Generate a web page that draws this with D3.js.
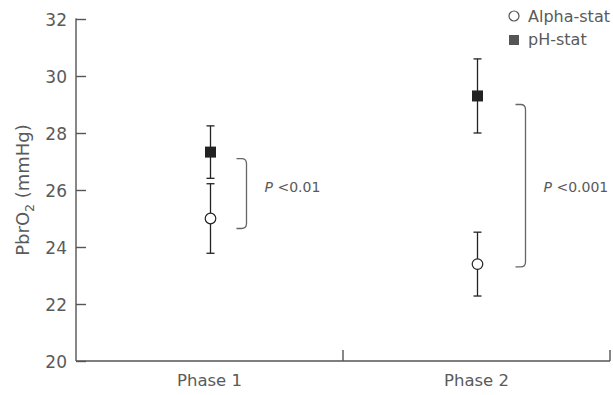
<!DOCTYPE html>
<html><head><meta charset="utf-8">
<script src="https://cdn.jsdelivr.net/npm/d3@7/dist/d3.min.js"></script>
<style>body{margin:0;background:#fff}svg{display:block}text{font-family:"DejaVu Sans",sans-serif;fill:#5a5a5a}</style>
</head><body><svg id="c" width="613" height="395"></svg>
<script>
const phases = ["Phase 1", "Phase 2"];
const series = ["Alpha-stat", "pH-stat"];
const alphaMean = [25.0, 23.4];
const alphaErr = [1.22, 1.12];
const phMean = [27.33, 29.3];
const phErr = [0.92, 1.3];
const bracketTop = [27.1, 29.0];
const bracketBottom = [24.65, 23.3];
const pLabels = ["<0.01", "<0.001"];
const pLabelAt = [26.1, 26.1];
const yTicks = [20, 22, 24, 26, 28, 30, 32];

const FONT = "DejaVu Sans";
const TXT = "#5a5a5a";
const svg = d3.select("#c");
const x = d3.scaleBand().domain(phases).range([76, 610]).padding(0);
const y = d3.scaleLinear().domain([20, 32]).range([361, 19]);
const axisColor = "#555";

// y axis
const gy = svg.append("g").attr("transform", "translate(76,0)")
  .call(d3.axisLeft(y).tickValues(yTicks).tickSize(-10).tickPadding(9).tickFormat(d3.format("d")));
gy.select(".domain").attr("d", `M-0.5,${y(32)}H0V${y(20)}`);
gy.selectAll("path,line").attr("stroke", axisColor).attr("stroke-width", 1.4);
gy.selectAll("text").attr("font-size", 17).attr("fill", TXT).attr("font-family", FONT).attr("dy", "0.36em");

// x axis
const gx = svg.append("g").attr("transform", `translate(0,${y(20)})`)
  .call(d3.axisBottom(x).tickSize(0).tickPadding(13));
gx.select(".domain").attr("d", `M76,0H${x.range()[1]}`);
gx.selectAll("path").attr("stroke", axisColor).attr("stroke-width", 1.4);
gx.selectAll("text").attr("font-size", 16.5).attr("fill", TXT).attr("font-family", FONT).attr("dy", "0.71em");
// boundary ticks
const bounds = phases.map(p => x(p) + x.bandwidth());
svg.append("g").selectAll("line").data(bounds).join("line")
  .attr("x1", d => d).attr("x2", d => d)
  .attr("y1", y(20)).attr("y2", y(20) - 11)
  .attr("stroke", axisColor).attr("stroke-width", 1.4);

// y label
svg.append("text").attr("transform", `translate(29,${(y(32)+y(20))/2}) rotate(-90)`)
  .attr("text-anchor", "middle").attr("font-size", 18)
  .html('PbrO<tspan font-size="12.5" dy="5">2</tspan><tspan dy="-5"> (mmHg)</tspan>');

const cx = p => x(p) + x.bandwidth() / 2 + 1;
const mk = "#222";
const cap = 4;

function errBar(g, m, e) {
  g.selectAll(null).data(phases).join("line")
    .attr("x1", p => cx(p)).attr("x2", p => cx(p))
    .attr("y1", (p, i) => y(m[i] + e[i])).attr("y2", (p, i) => y(m[i] - e[i]))
    .attr("stroke", mk).attr("stroke-width", 1.3);
  [1, -1].forEach(s => {
    g.selectAll(null).data(phases).join("line")
      .attr("x1", p => cx(p) - cap).attr("x2", p => cx(p) + cap)
      .attr("y1", (p, i) => y(m[i] + s * e[i])).attr("y2", (p, i) => y(m[i] + s * e[i]))
      .attr("stroke", mk).attr("stroke-width", 1.3);
  });
}
const gE = svg.append("g");
errBar(gE, alphaMean, alphaErr);
errBar(gE, phMean, phErr);

svg.append("g").selectAll("circle").data(phases).join("circle")
  .attr("cx", p => cx(p)).attr("cy", (p, i) => y(alphaMean[i])).attr("r", 5.3)
  .attr("fill", "#fff").attr("stroke", mk).attr("stroke-width", 1.2);
svg.append("g").selectAll("rect").data(phases).join("rect")
  .attr("x", p => cx(p) - 5.5).attr("y", (p, i) => y(phMean[i]) - 5.5)
  .attr("width", 11).attr("height", 11).attr("fill", mk);

// brackets
const bx = p => cx(p) + 36 + (p === phases[1] ? 12 : 0);
svg.append("g").selectAll("path").data(phases).join("path")
  .attr("d", (p, i) => {
    const X = bx(p), t = y(bracketTop[i]), b = y(bracketBottom[i]), r = 5;
    return `M${X-10},${t}H${X-r}Q${X},${t} ${X},${t+r}V${b-r}Q${X},${b} ${X-r},${b}H${X-10}`;
  })
  .attr("fill", "none").attr("stroke", "#666").attr("stroke-width", 1.3);
svg.append("g").selectAll("text").data(phases).join("text")
  .attr("x", p => bx(p) + 18)
  .attr("y", (p, i) => y(pLabelAt[i]) + 5)
  .attr("font-size", 14)
  .html((p, i) => `<tspan font-style="italic">P</tspan> ${pLabels[i]}`);

// legend
const lg = svg.append("g");
lg.append("circle").attr("cx", 514).attr("cy", 16).attr("r", 5).attr("fill", "#fff").attr("stroke", "#555").attr("stroke-width", 1.2);
lg.append("rect").attr("x", 509).attr("y", 35).attr("width", 10).attr("height", 10).attr("fill", "#555");
lg.selectAll("text").data(series).join("text")
  .attr("x", 528).attr("y", (d, i) => 22 + i * 23).attr("font-size", 16).text(d => d);
</script></body></html>
